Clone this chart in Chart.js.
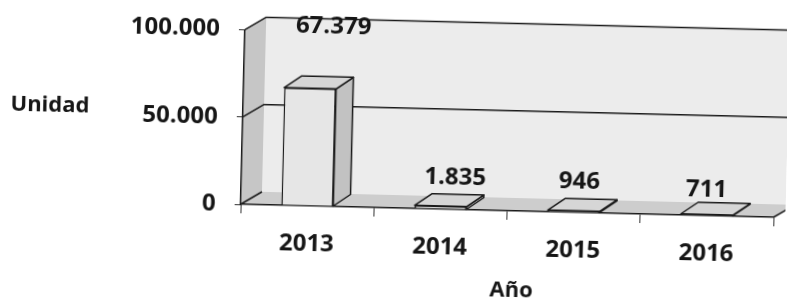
<!DOCTYPE html>
<html>
<head>
<meta charset="utf-8">
<script src="https://cdn.jsdelivr.net/npm/chart.js@4.4.1/dist/chart.umd.min.js"></script>
<style>
  html, body { margin: 0; padding: 0; background: #fff; }
  #wrap { width: 787px; height: 302px; overflow: hidden; }
  /* the source is a slightly tilted scan */
  #chart { transform: rotate(1.4deg); transform-origin: 50% 50%; }
</style>
</head>
<body>
<div id="wrap"><canvas id="chart" width="787" height="302"></canvas></div>
<script>
const years = ['2013', '2014', '2015', '2016'];
const units = [67379, 1835, 946, 711];
const yTicks = [0, 50000, 100000];

const TEXT = '#161616';
const LINE = '#1a1a1a';
const FONT = { family: "'Open Sans', 'Noto Sans', sans-serif", size: 24, weight: 'bold' };

// thousands with a dot, as in the source
const fmt = v => String(v).replace(/\B(?=(\d{3})+(?!\d))/g, '.');

function poly(ctx, pts, fill, stroke) {
    ctx.beginPath();
    ctx.moveTo(pts[0][0], pts[0][1]);
    for (let i = 1; i < pts.length; i++) ctx.lineTo(pts[i][0], pts[i][1]);
    ctx.closePath();
    if (fill) { ctx.fillStyle = fill; ctx.fill(); }
    if (stroke) { ctx.strokeStyle = stroke; ctx.stroke(); }
}

// fake 3D: walls + floor behind, depth faces on the bars, value labels
const fake3d = {
    id: 'fake3d',
    beforeDraw(chart, args, o) {
        const { ctx, chartArea: a } = chart;
        const y = chart.scales.y;
        const dx = o.wallDx, dy = o.wallDy;
        const far = chart.width + 30;
        ctx.save();
        ctx.lineWidth = 1.5;
        ctx.lineJoin = 'round';
        // back wall
        poly(ctx, [[a.left + dx, a.top + dy], [far, a.top + dy], [far, a.bottom + dy], [a.left + dx, a.bottom + dy]], o.backWall);
        // left wall
        poly(ctx, [[a.left, a.top], [a.left + dx, a.top + dy], [a.left + dx, a.bottom + dy], [a.left, a.bottom]], o.sideWall);
        // floor
        poly(ctx, [[a.left, a.bottom], [a.right, a.bottom], [a.right + dx, a.bottom + dy], [a.left + dx, a.bottom + dy]], o.floor);
        // gridlines running along the walls
        ctx.strokeStyle = LINE;
        yTicks.forEach(v => {
            const py = y.getPixelForValue(v);
            ctx.beginPath();
            ctx.moveTo(a.left, py);
            ctx.lineTo(a.left + dx, py + dy);
            if (v > 0) ctx.lineTo(far, py + dy);
            ctx.stroke();
        });
        ctx.beginPath();
        ctx.moveTo(a.right, a.bottom);
        ctx.lineTo(a.right + dx, a.bottom + dy);
        ctx.stroke();
        ctx.restore();
    },
    afterDatasetsDraw(chart, args, o) {
        const { ctx } = chart;
        const meta = chart.getDatasetMeta(0);
        const bdx = o.barDx, bdy = o.barDy;
        ctx.save();
        ctx.lineWidth = 1.5;
        ctx.lineJoin = 'round';
        meta.data.forEach((bar, i) => {
            const p = bar.getProps(['x', 'y', 'base', 'width'], true);
            const l = p.x - p.width / 2, r = p.x + p.width / 2;
            poly(ctx, [[r, p.y], [r + bdx, p.y + bdy], [r + bdx, p.base + bdy], [r, p.base]], o.barSide, LINE);
            poly(ctx, [[l, p.y], [l + bdx, p.y + bdy], [r + bdx, p.y + bdy], [r, p.y]], o.barTop, LINE);

            const off = o.labelOffsets[i];
            ctx.font = `${FONT.weight} ${FONT.size}px ${FONT.family}`;
            ctx.fillStyle = TEXT;
            ctx.textAlign = 'center';
            ctx.textBaseline = 'middle';
            ctx.fillText(fmt(units[i]), p.x + off[0], p.y + off[1]);
        });
        ctx.restore();
    },
    afterDraw(chart) {
        const { ctx, chartArea: a } = chart;
        ctx.save();
        ctx.font = `bold ${FONT.size - 2}px ${FONT.family}`;
        ctx.fillStyle = TEXT;
        ctx.textAlign = 'center';
        ctx.textBaseline = 'middle';
        ctx.fillText('Unidad', 49, (a.top + a.bottom) / 2 - 7);
        ctx.fillText('Año', (a.left + a.right) / 2 + 6, a.bottom + 80);
        ctx.restore();
    }
};

new Chart(document.getElementById('chart'), {
    type: 'bar',
    data: {
        labels: years,
        datasets: [{
            data: units,
            backgroundColor: '#e6e6e6',
            borderColor: LINE,
            borderWidth: 1.5,
            barPercentage: 0.39,
            categoryPercentage: 1
        }]
    },
    options: {
        responsive: false,
        animation: false,
        layout: { padding: { top: 28, right: 12, left: 0, bottom: 0 } },
        plugins: {
            legend: { display: false },
            tooltip: { enabled: false },
            fake3d: {
                wallDx: 21, wallDy: -13,
                barDx: 17, barDy: -12,
                backWall: '#ececec',
                sideWall: '#c6c6c6',
                floor: '#cdcdcd',
                barSide: '#c2c2c2',
                barTop: '#d6d6d6',
                labelOffsets: [[22, -62], [14, -29], [5, -29], [-1, -25]]
            }
        },
        scales: {
            x: {
                afterFit: s => { s.height = 94; },
                grid: { display: true, drawOnChartArea: false, drawTicks: true, tickLength: 9, color: '#333', offset: true },
                border: { display: true, color: LINE, width: 1.5 },
                ticks: { font: FONT, color: TEXT, padding: 15 }
            },
            y: {
                min: 0,
                max: 100000,
                afterFit: s => { s.width = 242; },
                afterBuildTicks: s => { s.ticks = yTicks.map(v => ({ value: v })); },
                grid: { drawOnChartArea: false, tickLength: 6, color: '#333' },
                border: { display: true, color: LINE, width: 1.5 },
                ticks: { font: FONT, color: TEXT, padding: 19, callback: v => fmt(v) }
            }
        }
    },
    plugins: [fake3d]
});
</script>
</body>
</html>
